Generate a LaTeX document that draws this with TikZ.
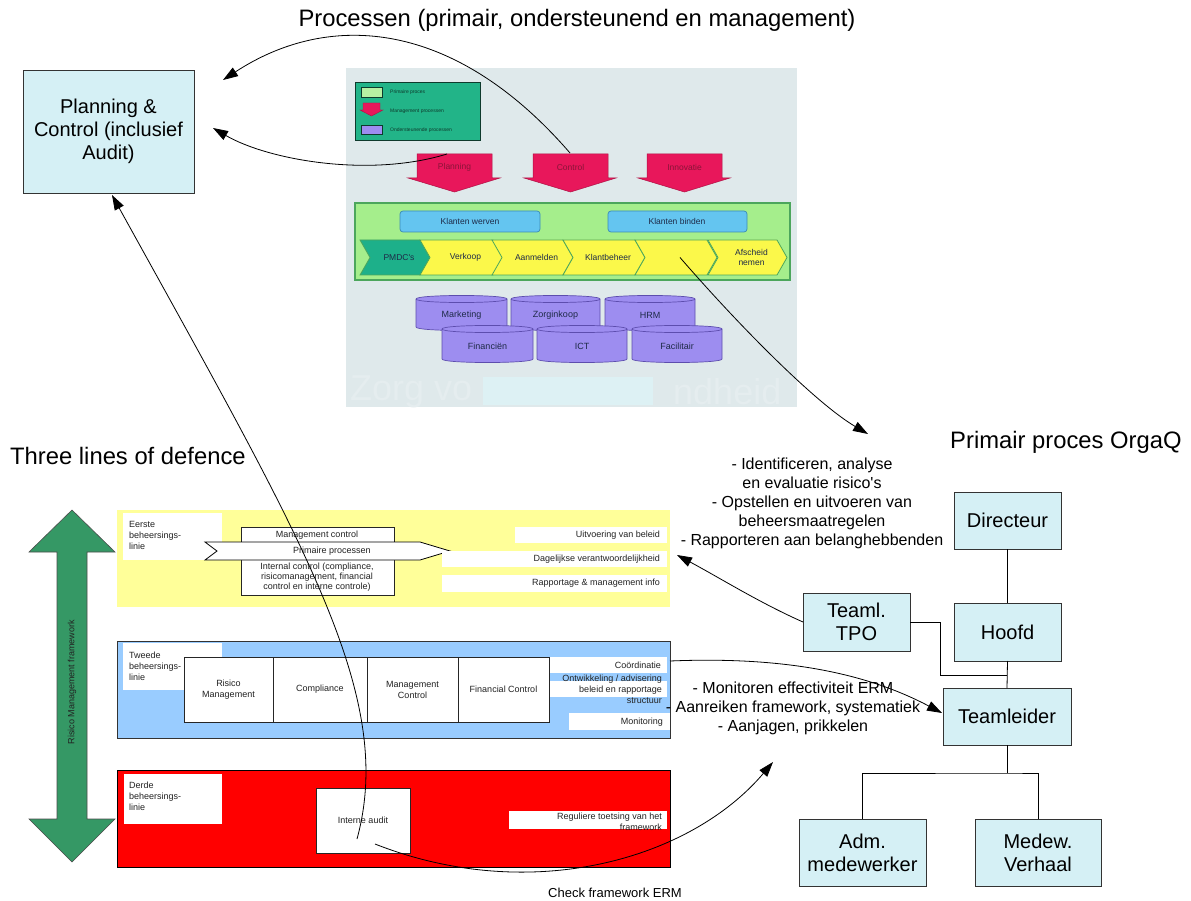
\documentclass[tikz,border=0pt]{standalone}
\usepackage{fontspec}
\setmainfont{Liberation Sans}
\usetikzlibrary{arrows.meta}

\definecolor{boxcyan}{HTML}{D5F0F5}
\definecolor{bandyellow}{HTML}{FFFF99}
\definecolor{bandblue}{HTML}{99CCFF}
\definecolor{bandred}{HTML}{FF0000}
\definecolor{framegreen}{HTML}{359865}
\definecolor{imgbg}{HTML}{DFE9EB}
\definecolor{wmband}{HTML}{DDF1F4}
\definecolor{wmtext}{HTML}{E5EDEF}
\definecolor{legendteal}{HTML}{22B488}
\definecolor{legendink}{HTML}{0E3A2C}
\definecolor{mgmtpink}{HTML}{E8175B}
\definecolor{mgmttext}{HTML}{8A1438}
\definecolor{primgreen}{HTML}{A5EE8C}
\definecolor{primedge}{HTML}{4CA65C}
\definecolor{klantblue}{HTML}{64C5F0}
\definecolor{klantedge}{HTML}{3A8CB5}
\definecolor{chevyellow}{HTML}{FBF84A}
\definecolor{chevteal}{HTML}{1DB08A}
\definecolor{supportpurple}{HTML}{9D8DF0}
\definecolor{supportedge}{HTML}{5D4DAE}
\definecolor{labelgray}{HTML}{222222}
\definecolor{imgink}{HTML}{1E2A48}

% node placed by its two corners
\newcommand{\placebox}[6]{%
  \pgfmathsetmacro{\pbcx}{(#3+#5)/2}%
  \pgfmathsetmacro{\pbcy}{(#4+#6)/2}%
  \pgfmathsetmacro{\pbw}{abs(#5-#3)}%
  \pgfmathsetmacro{\pbh}{abs(#6-#4)}%
  \node[#1, minimum width=\pbw pt, minimum height=\pbh pt, inner sep=0pt, outer sep=0pt] (#2) at (\pbcx,\pbcy)}

% one step of the primary process chain
\newcommand{\procstep}[5]{%
  \filldraw[fill=#1, draw=primedge, line width=0.8pt] (#2,240) -- ({#3-10},240) -- (#3,257.5) -- ({#3-10},275) -- (#2,275) -- ({#2+10},257.5) -- cycle;
  \node[imgtext, align=center] (#4) at ({(#2+#3)/2+4},257.5) {#5};}

% supporting process drawn as a cylinder
\newcommand{\supcyl}[6]{%
  \filldraw[fill=supportpurple, draw=supportedge, line width=0.7pt] (#1,#3) -- (#1,#4) .. controls (#1,{#4+4.7}) and (#2,{#4+4.7}) .. (#2,#4) -- (#2,#3) .. controls (#2,{#3-4.7}) and (#1,{#3-4.7}) .. (#1,#3) -- cycle;
  \draw[supportedge, line width=0.7pt] (#1,#3) .. controls (#1,{#3+4.7}) and (#2,{#3+4.7}) .. (#2,#3);
  \node[imgtext, font=\fontsize{9}{10}\selectfont] (#5) at ({(#1+#2)/2},{(#3+#4)/2+2}) {#6};}

% management process arrow
\newcommand{\mgmtarrow}[4]{%
  \filldraw[fill=mgmtpink, draw=mgmtpink!75!black, line width=0.5pt] (#1,154) -- (#2,154) -- (#2,178) -- ({#2+8},178) -- ({(#1+#2)/2},192) -- ({#1-9},178) -- (#1,178) -- cycle;
  \node[imgtext, text=mgmttext] (#3) at ({(#1+#2)/2},167) {#4};}

\tikzset{
  conn/.style={line width=0.8pt, draw=black, -{Triangle[length=15pt,width=10pt]}},
  link/.style={line width=0.8pt, draw=black},
  orgbox/.style={draw=black!80, line width=0.8pt, fill=boxcyan, align=center, font=\fontsize{20}{23}\selectfont},
  headtext/.style={font=\fontsize{23.8}{27}\selectfont, inner sep=0pt},
  notetext/.style={font=\fontsize{16}{19}\selectfont, align=center, inner sep=0pt},
  lbl/.style={font=\fontsize{9}{11}\selectfont, text=labelgray, inner sep=0pt},
  lblbox/.style={draw=black!85, line width=0.8pt, fill=white, font=\fontsize{9}{11}\selectfont, text=labelgray, align=center},
  whitetag/.style={fill=white},
  imgtext/.style={font=\fontsize{8.5}{9.5}\selectfont, text=imgink, inner sep=0pt},
  legendtext/.style={font=\fontsize{5}{6}\selectfont, text=legendink, inner sep=0pt, anchor=west},
}

\begin{document}
\begin{tikzpicture}[x=1pt,y=-1pt]
\useasboundingbox (0,0) rectangle (1191,901);
\fill[white] (0,0) rectangle (1191,901);

% ---------- headings ----------
\node[headtext] (title) at (577,20) {Processen (primair, ondersteunend en management)};
\node[headtext, anchor=west] (tlod) at (10,456) {Three lines of defence};
\node[headtext, anchor=west] (orgaq) at (950,442) {Primair proces OrgaQ};

% ---------- Planning & Control ----------
\placebox{orgbox}{pc}{23}{70}{194}{193}{Planning \&\\Control (inclusief\\Audit)};

% ---------- process model ----------
\begin{scope}
\clip (346,68) rectangle (797,407);
\fill[imgbg] (346,68) rectangle (797,407);
\fill[wmband] (483,377) rectangle (653,405);
\node[font=\fontsize{36}{40}\selectfont, text=wmtext, anchor=west, inner sep=0pt] (wmA) at (350,392) {Zorg vo};
\node[font=\fontsize{36}{40}\selectfont, text=wmtext, anchor=west, inner sep=0pt] (wmB) at (673,392) {ndheid};

% legend
\filldraw[fill=legendteal, draw=legendink, line width=0.7pt] (355,82) rectangle (480,140);
\filldraw[fill=primgreen!80!white, draw=legendink, line width=0.4pt] (361,87) rectangle (382,97);
\filldraw[fill=mgmtpink, draw=mgmtpink!75!black, line width=0.4pt] (363,103) -- (380,103) -- (380,110) -- (383,110) -- (371.5,116) -- (360,110) -- (363,110) -- cycle;
\filldraw[fill=supportpurple, draw=legendink, line width=0.4pt] (361,125) rectangle (382,134);
\node[legendtext] (lg1) at (390,92) {Primaire proces};
\node[legendtext] (lg2) at (390,111) {Management processen};
\node[legendtext] (lg3) at (390,130) {Ondersteunende processen};

% management processes
\mgmtarrow{417}{492}{planA}{Planning}
\mgmtarrow{533}{608}{ctrlA}{Control}
\mgmtarrow{647}{722}{innoA}{Innovatie}

% primary process
\filldraw[fill=primgreen, draw=primedge, line width=1.2pt] (355,203) rectangle (790,280);
\filldraw[fill=klantblue, draw=klantedge, line width=0.7pt, rounded corners=3pt] (400,211) rectangle (540,232);
\filldraw[fill=klantblue, draw=klantedge, line width=0.7pt, rounded corners=3pt] (608,211) rectangle (747,232);
\node[imgtext] (kw) at (470,221.5) {Klanten werven};
\node[imgtext] (kb) at (677,221.5) {Klanten binden};
\procstep{chevteal}{360}{430}{chevA}{PMDC\textquotesingle s}
\procstep{chevyellow}{420}{503}{chevB}{Verkoop}
\procstep{chevyellow}{492}{573}{chevC}{Aanmelden}
\procstep{chevyellow}{563}{645}{chevD}{Klantbeheer}
\procstep{chevyellow}{635}{717}{chevE}{}
\procstep{chevyellow}{708}{787}{chevF}{Afscheid\\nemen}

% supporting processes
\supcyl{416}{507}{299}{327}{cylA}{Marketing}
\supcyl{511}{600}{299}{327}{cylB}{Zorginkoop}
\supcyl{605}{695}{299}{327}{cylC}{HRM}
\supcyl{442}{533}{329}{359}{cylD}{Financiën}
\supcyl{537}{627}{329}{359}{cylE}{ICT}
\supcyl{632}{722}{329}{359}{cylF}{Facilitair}
\end{scope}

% ---------- risk management framework arrow ----------
\filldraw[fill=framegreen, draw=black!70, line width=0.6pt] (72,510) -- (115,552) -- (87,552) -- (87,819) -- (115,819) -- (72,862) -- (29,819) -- (57,819) -- (57,552) -- (29,552) -- cycle;
\node[lbl, rotate=90] (rmf) at (72,682) {Risico Management framework};

% ---------- first line ----------
\placebox{fill=bandyellow}{band1}{117}{510}{670}{607}{};
\placebox{whitetag}{tag1}{123}{513}{222}{560}{};
\node[lbl, anchor=north west, align=left] (tag1t) at (129,521.5) {Eerste\\beheersings-\\linie};
\placebox{lblbox}{mc}{241}{527}{394}{595}{};
\node[lbl] (mct) at (317,535) {Management control};
\node[lbl, align=center, font=\fontsize{9}{10.2}\selectfont] (ict) at (317,577) {Internal control (compliance,\\risicomanagement, financial\\control en interne controle)};
\filldraw[fill=white, draw=black, line width=0.8pt] (205,542) -- (420,542) -- (450,551) -- (420,560) -- (205,560) -- (217,551) -- cycle;
\node[lbl] (pp) at (332,551) {Primaire processen};
\fill[white] (515,527) rectangle (667,543);
\fill[white] (442,551) rectangle (667,567);
\fill[white] (442,575) rectangle (667,592);
\node[lbl, anchor=east] (r1a) at (660,535) {Uitvoering van beleid};
\node[lbl, anchor=east] (r1b) at (660,559) {Dagelijkse verantwoordelijkheid};
\node[lbl, anchor=east] (r1c) at (660,583.5) {Rapportage \& management info};

% ---------- second line ----------
\placebox{fill=bandblue, draw=black!80, line width=0.8pt}{band2}{117}{641}{670}{738}{};
\placebox{whitetag}{tag2}{123}{643}{222}{690}{};
\node[lbl, anchor=north west, align=left] (tag2t) at (129,651.5) {Tweede\\beheersings-\\linie};
\placebox{lblbox}{rm}{184}{657}{273}{722}{Risico\\Management};
\placebox{lblbox}{comp}{273}{657}{367}{722}{Compliance};
\placebox{lblbox}{mgc}{367}{657}{458}{722}{Management\\Control};
\placebox{lblbox}{fc}{458}{657}{549}{722}{Financial Control};
\fill[white] (550,657) rectangle (667,673);
\fill[white] (550,681) rectangle (667,697);
\fill[white] (569,713) rectangle (670,730);
\node[lbl, anchor=east] (coord) at (661,665) {Coördinatie};
\node[lbl, anchor=east, align=right] (ontw) at (662,689) {Ontwikkeling / advisering\\beleid en rapportage\\structuur};
\node[lbl, anchor=east] (mon) at (663,722) {Monitoring};

% ---------- third line ----------
\placebox{fill=bandred, draw=black, line width=0.8pt}{band3}{117}{770}{670}{867}{};
\placebox{whitetag}{tag3}{124}{774}{222}{824}{};
\node[lbl, anchor=north west, align=left] (tag3t) at (129,782) {Derde\\beheersings-\\linie};
\placebox{lblbox}{audit}{316}{788}{410}{853}{};
\node[lbl] (auditt) at (363,820) {Interne audit};
\fill[white] (509,811) rectangle (667,829);
\node[lbl, anchor=east, align=right] (regt) at (662,822) {Reguliere toetsing van het\\framework};

% ---------- organisation chart ----------
\placebox{orgbox}{dir}{954}{492}{1061}{549}{Directeur};
\placebox{orgbox}{hoofd}{954}{603}{1061}{661}{Hoofd};
\placebox{orgbox}{tpo}{803}{593}{910}{651}{Teaml.\\TPO};
\placebox{orgbox}{tl}{943}{688}{1071}{745}{Teamleider};
\placebox{orgbox}{adm}{799}{819}{926}{886}{Adm.\\medewerker};
\placebox{orgbox}{med}{975}{819}{1101}{886}{Medew.\\Verhaal};
\coordinate (tpobend) at (940,675);
\coordinate (bus) at (1007,773);
\draw[link] (dir.south) -- (hoofd.north);
\draw[link] (hoofd.south) -- (tl.north);
\draw[link] (tpo.east) -| (tpobend) -- (tpobend -| tl.north);
\draw[link] (tl.south) -- (bus);
\draw[link] (adm.north) |- (bus) -| (med.north);

% ---------- annotations ----------
\node[notetext] (note1) at (812,503) {- Identificeren, analyse\\en evaluatie risico\textquotesingle s\\- Opstellen en uitvoeren van\\beheersmaatregelen\\- Rapporteren aan belanghebbenden};
\node[notetext] (note2) at (793,708) {- Monitoren effectiviteit ERM\\- Aanreiken framework, systematiek\\- Aanjagen, prikkelen};
\node[font=\fontsize{13}{15}\selectfont, inner sep=0pt] (chk) at (615,893) {Check framework ERM};

% ---------- connectors ----------
\coordinate (ctrlTop) at (570,153);
\coordinate (planTop) at (447,154);
\coordinate (pcTopIn) at (223,80);
\coordinate (pcMidIn) at (213,128);
\coordinate (pcBottom) at (112,195);
\coordinate (auditUp) at (357,839);
\coordinate (auditOut) at (375,844);
\coordinate (band1R) at (677,555);
\coordinate (coordOut) at (670,661);
\coordinate (tlIn) at (942,713);
\coordinate (riskNote) at (868,434);
\coordinate (mgmtNote) at (773,762);

\draw[conn] (ctrlTop) .. controls (455,20) and (330,10) .. (pcTopIn);
\draw[conn] (planTop) .. controls (369,178) and (268,160) .. (pcMidIn);
\draw[conn] (auditUp) .. controls (396,696) and (306,546) .. (pcBottom);
\draw[conn] (chevE.center) .. controls (742,329) and (817,404) .. (riskNote);
\draw[conn] (tpo.west) .. controls (760,603) and (720,578) .. (band1R);
\draw[conn] (coordOut) .. controls (790,656) and (870,675) .. (tlIn);
\draw[conn] (auditOut) .. controls (530,905) and (690,860) .. (mgmtNote);
\end{tikzpicture}
\end{document}
